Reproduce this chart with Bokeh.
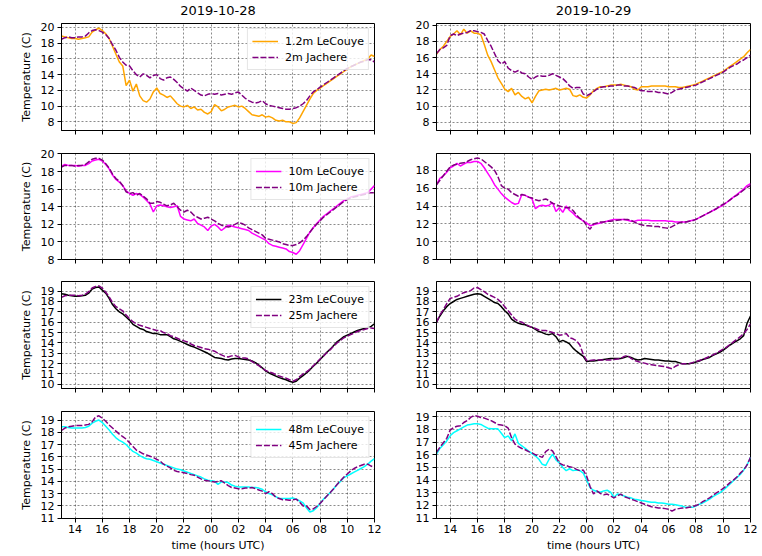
import numpy as np
from bokeh.plotting import figure
from bokeh.layouts import column, row
from bokeh.models import Range1d, FixedTicker, Legend, LegendItem
from bokeh.embed import file_html
from bokeh.resources import INLINE

# sample times: hours UTC counted from 00:00 of the first day, every 15 minutes
hours = np.arange(13.0, 36.001, 0.25)

x_tick_values = [14, 16, 18, 20, 22, 24, 26, 28, 30, 32, 34, 36]
x_tick_labels = ["14", "16", "18", "20", "22", "00", "02", "04", "06", "08", "10", "12"]
dates = ["2019-10-28", "2019-10-29"]

# ---- 2019-10-28 ----
lecouye_1p2m_d28 = [
    18.9, 18.8, 18.7, 18.6, 18.6, 18.5, 18.6, 18.7, 18.8, 19.4, 19.7, 19.9,
    19.6, 19.2, 18.6, 17.6, 16.6, 15.6, 15.1, 12.6, 13.3, 11.9, 12.8, 11.3,
    10.7, 10.5, 10.9, 11.8, 12.3, 11.6, 11.4, 11.1, 11.3, 10.8, 10.3, 10.0,
    9.9, 10.1, 9.7, 9.9, 9.5, 9.6, 9.2, 9.0, 9.3, 10.2, 9.9, 9.4,
    9.6, 9.9, 10.0, 10.1, 9.9, 10.0, 9.7, 9.3, 8.9, 8.8, 8.7, 8.9,
    8.6, 8.7, 8.5, 8.2, 8.1, 8.2, 8.0, 8.0, 7.8, 7.9, 8.5, 9.3,
    10.1, 10.9, 11.6, 12.0, 12.3, 12.6, 12.9, 13.2, 13.5, 13.8, 14.1, 14.4,
    14.7, 15.0, 15.2, 15.4, 15.6, 15.8, 16.0, 16.5, 16.3]
jachere_2m_d28 = [
    18.5, 18.7, 18.8, 18.7, 18.7, 18.8, 18.8, 18.9, 19.3, 19.6, 19.7, 19.6,
    19.4, 19.1, 18.6, 17.8, 17.1, 16.2, 15.6, 15.2, 15.1, 14.5, 14.0, 13.7,
    14.1, 13.9, 13.6, 13.9, 14.0, 13.5, 13.3, 13.6, 13.7, 13.4, 13.0, 12.5,
    12.2, 11.9, 12.3, 12.0, 11.7, 11.4, 11.3, 11.5, 11.6, 11.5, 11.6, 11.4,
    11.5, 11.6, 11.5, 11.7, 11.8, 11.4, 11.0, 10.7, 10.5, 10.4, 10.5, 10.7,
    10.3, 10.1, 10.0, 9.9, 9.8, 9.7, 9.6, 9.6, 9.7, 9.8, 10.0, 10.3,
    10.7, 11.3, 11.8, 12.1, 12.4, 12.7, 13.0, 13.3, 13.6, 13.9, 14.2, 14.5,
    14.8, 15.0, 15.2, 15.4, 15.6, 15.7, 15.9, 15.9, 15.6]
lecouye_10m_d28 = [
    18.6, 18.8, 18.7, 18.7, 18.7, 18.6, 18.7, 18.7, 18.9, 19.2, 19.3, 19.4,
    19.2, 18.8, 18.3, 17.6, 17.1, 16.8, 16.4, 15.8, 15.5, 15.3, 15.5, 15.4,
    15.1, 14.7, 14.3, 13.4, 14.1, 14.2, 14.1, 14.0, 13.9, 14.0, 14.1, 12.9,
    12.6, 12.5, 12.4, 12.6, 12.1, 11.9, 11.7, 11.3, 11.8, 12.0, 11.7, 11.3,
    11.6, 11.9, 11.8, 11.7, 11.6, 11.5, 11.4, 11.3, 11.0, 10.8, 10.6, 10.4,
    10.2, 9.8, 9.6, 9.5, 9.4, 9.3, 9.2, 8.9, 8.8, 8.6, 9.0, 9.7,
    10.4, 11.1, 11.6, 12.1, 12.5, 12.9, 13.2, 13.5, 13.8, 14.1, 14.4, 14.7,
    14.9, 15.1, 15.2, 15.3, 15.4, 15.5, 15.6, 16.0, 16.4]
jachere_10m_d28 = [
    18.5, 18.7, 18.7, 18.7, 18.6, 18.7, 18.7, 18.8, 19.1, 19.4, 19.5, 19.5,
    19.3, 18.9, 18.4, 17.7, 17.2, 16.9, 16.4, 15.7, 15.5, 15.6, 15.3, 15.5,
    15.2, 14.9, 14.4, 14.4, 14.6, 14.5, 14.3, 14.1, 14.2, 14.4, 14.0, 13.6,
    13.4, 13.6, 13.4, 13.0, 12.8, 12.6, 12.7, 12.8, 12.6, 12.4, 12.1, 11.9,
    11.8, 11.7, 11.8, 12.0, 12.2, 12.1, 11.9, 11.6, 11.4, 11.2, 11.0, 10.8,
    10.4, 10.3, 10.2, 10.1, 10.0, 9.8, 9.7, 9.6, 9.6, 9.7, 9.9, 10.2,
    10.6, 11.1, 11.6, 12.0, 12.4, 12.8, 13.1, 13.4, 13.7, 14.0, 14.3, 14.6,
    14.8, 15.0, 15.1, 15.2, 15.3, 15.4, 15.5, 15.6, 15.6]
lecouye_23m_d28 = [
    18.75, 18.7, 18.6, 18.55, 18.5, 18.5, 18.55, 18.6, 18.8, 19.2, 19.35, 19.4,
    19.1, 18.8, 18.3, 17.7, 17.3, 17.0, 16.8, 16.5, 16.2, 15.8, 15.6, 15.4,
    15.3, 15.1, 15.0, 14.9, 14.9, 14.8, 14.8, 14.8, 14.6, 14.4, 14.3, 14.15,
    14.0, 13.85, 13.7, 13.6, 13.45, 13.3, 13.15, 13.0, 12.8, 12.6, 12.55, 12.5,
    12.4, 12.35, 12.45, 12.5, 12.5, 12.45, 12.4, 12.35, 12.25, 12.1, 11.85, 11.6,
    11.3, 11.1, 10.95, 10.8, 10.65, 10.55, 10.45, 10.3, 10.2, 10.3, 10.6, 10.85,
    11.1, 11.4, 11.75, 12.05, 12.4, 12.75, 13.1, 13.4, 13.75, 14.1, 14.35, 14.6,
    14.75, 14.9, 15.05, 15.2, 15.3, 15.4, 15.5, 15.6, 15.85]
jachere_25m_d28 = [
    18.4, 18.55, 18.6, 18.6, 18.6, 18.55, 18.6, 18.7, 18.95, 19.3, 19.45, 19.5,
    19.3, 18.9, 18.45, 17.9, 17.5, 17.3, 17.1, 16.7, 16.35, 16.05, 15.85, 15.7,
    15.6, 15.5, 15.4, 15.3, 15.2, 15.2, 15.0, 14.9, 14.7, 14.6, 14.45, 14.3,
    14.2, 14.1, 13.9, 13.75, 13.65, 13.55, 13.45, 13.4, 13.3, 13.2, 13.0, 12.85,
    12.7, 12.65, 12.75, 12.8, 12.65, 12.55, 12.55, 12.45, 12.2, 12.0, 11.8, 11.55,
    11.35, 11.2, 11.1, 10.95, 10.8, 10.7, 10.6, 10.45, 10.3, 10.45, 10.75, 11.0,
    11.2, 11.45, 11.8, 12.1, 12.45, 12.75, 13.05, 13.35, 13.7, 14.0, 14.25, 14.5,
    14.65, 14.8, 14.95, 15.1, 15.2, 15.3, 15.4, 15.45, 15.4]
lecouye_48m_d28 = [
    18.45, 18.45, 18.4, 18.35, 18.35, 18.35, 18.35, 18.4, 18.5, 18.75, 18.9, 19.0,
    18.8, 18.5, 18.2, 17.85, 17.55, 17.35, 17.2, 17.0, 16.7, 16.45, 16.3, 16.1,
    15.95, 15.85, 15.8, 15.7, 15.6, 15.5, 15.4, 15.3, 15.2, 15.1, 15.0, 14.95,
    14.85, 14.75, 14.65, 14.55, 14.45, 14.35, 14.2, 14.1, 14.05, 14.0, 13.75, 13.95,
    13.95, 13.9, 13.7, 13.6, 13.55, 13.55, 13.55, 13.55, 13.5, 13.5, 13.45, 13.35,
    13.15, 13.0, 12.9, 12.75, 12.6, 12.6, 12.6, 12.6, 12.65, 12.55, 12.4, 12.25,
    11.85, 11.5, 11.6, 11.85, 12.2, 12.55, 12.8, 13.1, 13.4, 13.75, 14.0, 14.3,
    14.45, 14.6, 14.75, 14.9, 15.05, 15.2, 15.4, 15.65, 15.85]
jachere_45m_d28 = [
    18.15, 18.35, 18.45, 18.5, 18.55, 18.55, 18.55, 18.6, 18.65, 18.85, 19.25, 19.35,
    19.15, 18.9, 18.6, 18.35, 18.1, 17.85, 17.65, 17.45, 17.15, 16.85, 16.55, 16.4,
    16.25, 16.15, 16.05, 15.95, 15.8, 15.65, 15.4, 15.25, 15.1, 14.9, 14.8, 14.75,
    14.7, 14.65, 14.55, 14.5, 14.35, 14.2, 14.1, 14.05, 14.0, 13.95, 14.0, 14.05,
    13.85, 13.65, 13.5, 13.45, 13.4, 13.4, 13.45, 13.45, 13.5, 13.4, 13.3, 13.2,
    13.0, 13.15, 13.0, 12.7, 12.6, 12.5, 12.5, 12.45, 12.5, 12.55, 12.3, 12.0,
    12.0, 11.7, 11.75, 11.95, 12.2, 12.5, 12.8, 13.1, 13.4, 13.75, 14.05, 14.35,
    14.6, 14.85, 15.05, 15.2, 15.3, 15.4, 15.4, 15.25, 15.15]

# ---- 2019-10-29 ----
lecouye_1p2m_d29 = [
    16.4, 17.0, 17.4, 18.0, 18.6, 18.9, 19.3, 18.8, 19.5, 19.0, 19.3, 19.0,
    19.0, 18.8, 17.6, 16.3, 15.5, 14.5, 13.5, 12.8, 12.1, 11.8, 12.2, 11.4,
    11.7, 11.2, 10.9, 11.1, 10.4, 11.2, 11.9, 12.0, 12.1, 12.0, 12.1, 12.2,
    12.0, 12.1, 12.2, 12.1, 11.3, 11.2, 11.4, 11.1, 11.0, 11.4, 11.9, 12.2,
    12.4, 12.4, 12.5, 12.6, 12.6, 12.6, 12.7, 12.6, 12.5, 12.4, 12.1, 12.0,
    12.4, 12.4, 12.4, 12.5, 12.5, 12.5, 12.5, 12.5, 12.4, 12.4, 12.4, 12.3,
    12.3, 12.4, 12.5, 12.6, 12.7, 12.9, 13.1, 13.3, 13.5, 13.7, 13.9, 14.1,
    14.3, 14.6, 14.9, 15.2, 15.5, 15.8, 16.1, 16.6, 17.0]
jachere_2m_d29 = [
    16.5, 17.0, 17.2, 17.5, 18.7, 18.9, 18.7, 18.9, 19.0, 19.1, 19.3, 19.3,
    19.2, 19.1, 18.9, 18.1, 17.4, 16.5, 15.6, 15.2, 15.5, 14.7, 14.4, 14.2,
    14.4, 14.1, 14.0, 13.6, 13.3, 13.6, 13.8, 13.7, 13.7, 13.8, 14.0, 13.8,
    13.6, 13.4, 13.0, 12.5, 12.2, 12.3, 12.3, 11.5, 11.3, 11.5, 11.8, 12.1,
    12.3, 12.4, 12.4, 12.5, 12.5, 12.6, 12.6, 12.5, 12.5, 12.4, 12.3, 12.1,
    11.9, 11.9, 11.8, 11.8, 11.8, 11.7, 11.7, 11.6, 11.5, 11.7, 12.0, 12.1,
    12.2, 12.3, 12.4, 12.5, 12.6, 12.8, 13.0, 13.2, 13.4, 13.6, 13.8, 14.0,
    14.2, 14.5, 14.8, 15.0, 15.2, 15.5, 15.7, 16.0, 16.3]
lecouye_10m_d29 = [
    16.4, 17.1, 17.4, 17.8, 18.3, 18.5, 18.8, 18.5, 18.7, 18.9, 18.9, 19.0,
    19.0, 18.8, 18.3, 17.7, 17.1, 16.4, 15.9, 15.4, 15.0, 14.7, 14.4, 14.2,
    14.3, 15.3, 15.2, 15.0, 14.8, 13.7, 14.0, 14.1, 14.0, 14.1, 14.4, 13.4,
    13.8, 13.3, 14.0, 13.5, 13.2, 12.8, 12.6, 12.3, 12.1, 11.8, 11.9, 12.0,
    12.1, 12.2, 12.3, 12.4, 12.5, 12.5, 12.5, 12.5, 12.4, 12.3, 12.3, 12.4,
    12.4, 12.4, 12.4, 12.35, 12.35, 12.35, 12.35, 12.35, 12.3, 12.3, 12.2, 12.2,
    12.2, 12.2, 12.3, 12.4, 12.5, 12.7, 12.9, 13.1, 13.3, 13.5, 13.7, 13.9,
    14.1, 14.4, 14.7, 15.0, 15.3, 15.6, 15.9, 16.3, 16.5]
jachere_10m_d29 = [
    16.4, 16.9, 17.4, 17.9, 18.4, 18.6, 18.7, 18.8, 18.85, 19.0, 19.2, 19.3,
    19.4, 19.3, 19.0, 18.7, 18.4, 18.0, 17.3, 16.3, 16.0, 15.9, 15.5, 15.3,
    15.1, 15.3, 15.2, 15.0, 14.9, 14.7, 14.6, 14.7, 14.8, 14.6, 14.3, 14.2,
    14.0, 13.9, 13.8, 13.8, 13.5, 13.0, 12.6, 12.4, 11.8, 11.4, 12.0, 12.1,
    12.2, 12.2, 12.3, 12.3, 12.35, 12.4, 12.45, 12.5, 12.5, 12.4, 12.2, 12.0,
    11.9, 11.8, 11.8, 11.75, 11.7, 11.7, 11.6, 11.55, 11.5, 11.7, 11.9, 12.1,
    12.2, 12.2, 12.3, 12.35, 12.5, 12.7, 12.9, 13.1, 13.3, 13.5, 13.7, 14.0,
    14.2, 14.4, 14.7, 15.0, 15.2, 15.5, 15.8, 16.1, 16.3]
lecouye_23m_d29 = [
    16.0, 16.6, 17.1, 17.5, 17.8, 18.0, 18.2, 18.3, 18.4, 18.5, 18.6, 18.7,
    18.75, 18.7, 18.5, 18.3, 18.1, 17.9, 17.8, 17.5, 17.1, 16.8, 16.3, 16.05,
    15.9, 15.8, 15.75, 15.6, 15.5, 15.3, 15.1, 15.0, 14.85, 14.8, 14.9, 14.6,
    14.1, 14.25, 14.1, 13.9, 13.5, 13.2, 12.95, 12.7, 12.2, 12.25, 12.25, 12.3,
    12.35, 12.4, 12.45, 12.5, 12.5, 12.5, 12.5, 12.6, 12.7, 12.6, 12.45, 12.35,
    12.4, 12.5, 12.45, 12.4, 12.35, 12.35, 12.3, 12.25, 12.25, 12.2, 12.2, 12.1,
    12.0, 12.0, 12.0, 12.05, 12.15, 12.25, 12.4, 12.5, 12.6, 12.8, 12.95, 13.1,
    13.3, 13.55, 13.8, 14.0, 14.2, 14.4, 14.7, 15.9, 16.6]
jachere_25m_d29 = [
    16.0, 16.7, 17.2, 17.8, 18.3, 18.4, 18.5, 18.7, 18.85, 18.95, 19.05, 19.3,
    19.35, 19.15, 18.95, 18.7, 18.55, 18.4, 18.2, 17.9, 17.5, 17.1, 16.7, 16.3,
    16.1, 16.0, 15.8, 15.65, 15.5, 15.4, 15.25, 15.2, 15.2, 15.1, 15.0, 14.9,
    14.75, 14.8, 14.9, 14.5, 14.4, 14.2, 13.8, 12.9, 12.3, 12.3, 12.35, 12.35,
    12.35, 12.35, 12.35, 12.35, 12.4, 12.45, 12.5, 12.7, 12.8, 12.5, 12.3, 12.2,
    12.1, 12.05, 11.95, 11.9, 11.85, 11.8, 11.75, 11.7, 11.6, 11.5, 11.75, 11.9,
    12.0, 12.0, 12.0, 12.1, 12.2, 12.3, 12.4, 12.55, 12.7, 12.85, 13.0, 13.2,
    13.4, 13.6, 13.85, 14.1, 14.35, 14.6, 14.9, 15.3, 15.85]
lecouye_48m_d29 = [
    16.05, 16.5, 16.8, 17.1, 17.5, 17.75, 17.9, 18.05, 18.2, 18.35, 18.4, 18.45,
    18.45, 18.4, 18.25, 18.1, 18.05, 18.05, 18.05, 17.7, 17.35, 17.5, 17.1, 17.65,
    16.9, 16.7, 16.5, 16.3, 16.1, 15.9, 15.65, 15.25, 15.15, 15.65, 16.05, 15.6,
    15.35, 15.0, 14.75, 14.9, 14.75, 14.8, 14.75, 14.55, 14.0, 13.4, 13.2, 13.1,
    13.05, 13.15, 13.2, 13.05, 12.65, 12.9, 12.85, 12.75, 12.65, 12.6, 12.5, 12.45,
    12.4, 12.35, 12.3, 12.25, 12.25, 12.2, 12.2, 12.15, 12.1, 12.1, 12.05, 12.0,
    11.95, 11.85, 11.85, 11.85, 11.95, 12.1, 12.2, 12.35, 12.5, 12.7, 12.85, 13.0,
    13.2, 13.45, 13.7, 13.95, 14.2, 14.45, 14.8, 15.2, 15.8]
jachere_45m_d29 = [
    16.2, 16.6, 16.95, 17.3, 17.95, 18.15, 18.25, 18.3, 18.55, 18.7, 18.95, 19.1,
    19.05, 18.95, 18.9, 18.8, 18.7, 18.55, 18.4, 18.35, 18.3, 18.1, 17.35, 16.85,
    16.65, 16.5, 16.4, 16.25, 16.15, 16.0, 15.9, 15.8, 16.25, 16.45, 16.3, 15.85,
    15.35, 15.2, 15.15, 15.05, 15.0, 14.85, 14.75, 14.8, 14.3, 13.5, 12.9, 13.15,
    12.95, 12.85, 12.9, 12.75, 12.6, 12.75, 12.9, 12.7, 12.6, 12.5, 12.4, 12.3,
    12.2, 12.1, 12.0, 11.9, 11.85, 11.8, 11.8, 11.75, 11.7, 11.55, 11.7, 11.75,
    11.8, 11.8, 11.85, 11.9, 12.0, 12.1, 12.3, 12.45, 12.6, 12.8, 13.0, 13.15,
    13.35, 13.55, 13.8, 14.0, 14.25, 14.55, 14.8, 15.2, 15.8]

all_series = [lecouye_1p2m_d28, jachere_2m_d28, lecouye_10m_d28, jachere_10m_d28,
              lecouye_23m_d28, jachere_25m_d28, lecouye_48m_d28, jachere_45m_d28,
              lecouye_1p2m_d29, jachere_2m_d29, lecouye_10m_d29, jachere_10m_d29,
              lecouye_23m_d29, jachere_25m_d29, lecouye_48m_d29, jachere_45m_d29]
for s in all_series:
    assert len(s) == len(hours), len(s)

solid_labels = ["1.2m LeCouye", "10m LeCouye", "23m LeCouye", "48m LeCouye"]
dashed_labels = ["2m Jachere", "10m Jachere", "25m Jachere", "45m Jachere"]
solid_colors = ["#FFA500", "#FF00FF", "#000000", "#00FFFF"]
dashed_color = "#800080"

rows_data = [
    ((lecouye_1p2m_d28, jachere_2m_d28), (lecouye_1p2m_d29, jachere_2m_d29)),
    ((lecouye_10m_d28, jachere_10m_d28), (lecouye_10m_d29, jachere_10m_d29)),
    ((lecouye_23m_d28, jachere_25m_d28), (lecouye_23m_d29, jachere_25m_d29)),
    ((lecouye_48m_d28, jachere_45m_d28), (lecouye_48m_d29, jachere_45m_d29)),
]
y_limits = [
    ((6.9, 20.5), (7.0, 20.2)),
    ((8.0, 20.05), (8.0, 19.9)),
    ((9.6, 19.93), (9.6, 19.93)),
    ((10.97, 19.7), (10.97, 19.42)),
]
y_ticks = [
    [8, 10, 12, 14, 16, 18, 20],
    [8, 10, 12, 14, 16, 18, 20],
    [10, 11, 12, 13, 14, 15, 16, 17, 18, 19],
    [11, 12, 13, 14, 15, 16, 17, 18, 19],
]

FONT = "DejaVu Sans"
border_top = [23, 12, 11, 12]
border_bottom = [11, 11, 11, 38]
frame_heights = [107, 106, 107, 107]

GRID_COLOR = "black"
GRID_ALPHA = 0.65
GRID_WIDTH = 0.7
GRID_DASH = "2 2"


def make_panel(r, c):
    left = (c == 0)
    bottom_row = (r == 3)
    solid, dashed = rows_data[r][c]
    ylo, yhi = y_limits[r][c]
    p = figure(frame_width=313 if left else 314, frame_height=frame_heights[r],
               x_range=Range1d(13, 36), y_range=Range1d(ylo, yhi),
               min_border_left=61 if left else 42, min_border_right=20 if left else 12,
               min_border_top=border_top[r], min_border_bottom=border_bottom[r],
               output_backend="svg", toolbar_location=None,
               title=dates[c] if r == 0 else None)
    p.background_fill_color = "white"
    p.border_fill_color = "white"
    p.outline_line_color = "black"
    p.outline_line_alpha = 1.0
    p.outline_line_width = 1

    if r == 0:
        p.title.align = "center"
        p.title.text_font = FONT
        p.title.text_font_size = "13px"
        p.title.text_font_style = "normal"
        p.title.text_color = "black"
        p.title.text_line_height = 1.0
        p.title.standoff = 0
        p.title.padding = dict(left=0, right=0, top=0, bottom=9)

    for ax in p.axis:
        ax.axis_line_color = "black"
        ax.major_tick_line_color = "black"
        ax.minor_tick_line_color = "black"
        ax.major_tick_out = 4
        ax.major_tick_in = 0
        ax.minor_tick_out = 0
        ax.minor_tick_in = 0
        ax.major_label_text_font = FONT
        ax.major_label_text_font_size = "11px"
        ax.major_label_text_color = "black"
        ax.axis_label_text_font = FONT
        ax.axis_label_text_font_size = "11px"
        ax.axis_label_text_font_style = "normal"
        ax.axis_label_text_color = "black"

    # y axis and horizontal grid
    p.yaxis.ticker = FixedTicker(ticks=y_ticks[r])
    p.ygrid.ticker = FixedTicker(ticks=y_ticks[r])
    p.yaxis.major_label_standoff = 3
    if left:
        p.yaxis.axis_label = "Temperature (C)"
        p.yaxis.axis_label_standoff = 5

    # x axis: labelled only on the bottom row (shared x); others get bare ticks
    if bottom_row:
        xt = FixedTicker(ticks=x_tick_values)
        p.xaxis.ticker = xt
        p.xgrid.ticker = xt
        p.xaxis.major_label_overrides = dict(zip(x_tick_values, x_tick_labels))
        p.xaxis.major_label_standoff = 2
        p.xaxis.axis_label = "time (hours UTC)"
        p.xaxis.axis_label_standoff = 3
        p.xgrid.grid_line_color = GRID_COLOR
        p.xgrid.grid_line_alpha = GRID_ALPHA
        p.xgrid.grid_line_width = GRID_WIDTH
        p.xgrid.grid_line_dash = GRID_DASH
    else:
        xt = FixedTicker(ticks=[], minor_ticks=x_tick_values)
        p.xaxis.ticker = xt
        p.xgrid.ticker = xt
        p.xaxis.minor_tick_out = 4
        p.xaxis.minor_tick_line_width = 1
        p.xgrid.grid_line_color = None
        p.xgrid.minor_grid_line_color = GRID_COLOR
        p.xgrid.minor_grid_line_alpha = GRID_ALPHA
        p.xgrid.minor_grid_line_width = GRID_WIDTH
        p.xgrid.minor_grid_line_dash = GRID_DASH

    p.ygrid.grid_line_color = GRID_COLOR
    p.ygrid.grid_line_alpha = GRID_ALPHA
    p.ygrid.grid_line_width = GRID_WIDTH
    p.ygrid.grid_line_dash = GRID_DASH

    r1 = p.line(hours, solid, line_color=solid_colors[r], line_width=1.5)
    r2 = p.line(hours, dashed, line_color=dashed_color, line_width=1.5, line_dash="6 2")

    if left:
        legend = Legend(items=[LegendItem(label=solid_labels[r], renderers=[r1]),
                               LegendItem(label=dashed_labels[r], renderers=[r2])],
                        location="top_right", margin=5, padding=4, spacing=0,
                        label_height=16, glyph_height=16, glyph_width=26,
                        label_standoff=7, label_text_font=FONT,
                        label_text_font_size="11px", label_text_color="black",
                        border_line_color="#cccccc", border_line_width=1,
                        background_fill_color="white", background_fill_alpha=0.8)
        p.add_layout(legend)
    return p


layout = column(*[row(make_panel(r, 0), make_panel(r, 1)) for r in range(4)])

open("out.html", "w").write(file_html(layout, INLINE))
